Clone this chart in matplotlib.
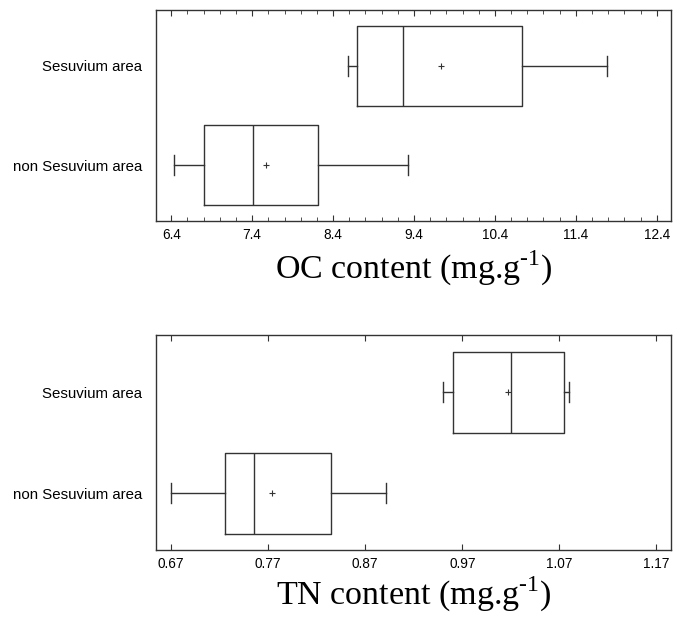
import matplotlib
matplotlib.use("Agg")
import matplotlib.pyplot as plt
from matplotlib.ticker import MultipleLocator, FixedLocator

plt.rcParams['font.family'] = ['Liberation Sans', 'DejaVu Sans']
plt.rcParams['mathtext.fontset'] = 'custom'
plt.rcParams['mathtext.rm'] = 'Liberation Serif'

groups = ["non Sesuvium area", "Sesuvium area"]

# OC content (mg/g): whisker low, Q1, median, Q3, whisker high, mean
oc_low = [6.43, 8.59]
oc_q1 = [6.80, 8.70]
oc_med = [7.41, 9.27]
oc_q3 = [8.21, 10.74]
oc_high = [9.32, 11.78]
oc_mean = [7.57, 9.73]
oc_ticks = [6.4, 7.4, 8.4, 9.4, 10.4, 11.4, 12.4]

# TN content (mg/g)
tn_low = [0.670, 0.950]
tn_q1 = [0.725, 0.960]
tn_med = [0.755, 1.020]
tn_q3 = [0.835, 1.075]
tn_high = [0.891, 1.080]
tn_mean = [0.774, 1.017]
tn_ticks = [0.67, 0.77, 0.87, 0.97, 1.07, 1.17]

LC = '#333333'

fig = plt.figure(figsize=(6.75, 6.19), dpi=100)
ax1 = fig.add_axes([0.2311, 0.6435, 0.763, 0.3403])
ax2 = fig.add_axes([0.2311, 0.1115, 0.763, 0.3473])


def draw(ax, low, q1, med, q3, high, mean, ticks, xlim, minor, xlabel, lpad):
    stats = []
    for i in range(len(groups)):
        stats.append(dict(label=groups[i], whislo=low[i], q1=q1[i], med=med[i],
                          q3=q3[i], whishi=high[i], mean=mean[i], fliers=[]))
    ax.bxp(stats, positions=[1, 2], widths=0.8, orientation='horizontal',
           showmeans=True, capwidths=0.2,
           boxprops=dict(color=LC, linewidth=1.0),
           medianprops=dict(color=LC, linewidth=1.0),
           whiskerprops=dict(color=LC, linewidth=1.0),
           capprops=dict(color=LC, linewidth=1.0),
           meanprops=dict(marker='+', markeredgecolor=LC, markersize=5,
                          markeredgewidth=0.8))
    ax.set_xlim(*xlim)
    ax.set_ylim(0.44, 2.563)
    ax.xaxis.set_major_locator(FixedLocator(ticks))
    ax.set_xticklabels([f"{t:g}" for t in ticks], fontsize=9.8)
    if minor:
        ax.xaxis.set_minor_locator(MultipleLocator(minor))
    ax.tick_params(axis='x', which='both', direction='in', top=True,
                   bottom=True, color=LC, pad=5)
    ax.tick_params(axis='x', which='major', length=4)
    ax.tick_params(axis='x', which='minor', length=3)
    ax.tick_params(axis='y', length=0, pad=10, labelsize=10.8)
    ax.set_yticks([1, 2])
    ax.set_yticklabels(groups)
    for s in ax.spines.values():
        s.set_color(LC)
        s.set_linewidth(1.0)
    ax.set_xlabel(xlabel, fontsize=24.5, family=['Liberation Serif'],
                  labelpad=lpad)


draw(ax1, oc_low, oc_q1, oc_med, oc_q3, oc_high, oc_mean, oc_ticks,
     (6.211, 12.577), 0.2, r'OC content (mg.g$^{\text{-1}}$)', 5)
draw(ax2, tn_low, tn_q1, tn_med, tn_q3, tn_high, tn_mean, tn_ticks,
     (0.6543, 1.1852), None, r'TN content (mg.g$^{\text{-1}}$)', 3)

fig.savefig('out.png', dpi=100)
